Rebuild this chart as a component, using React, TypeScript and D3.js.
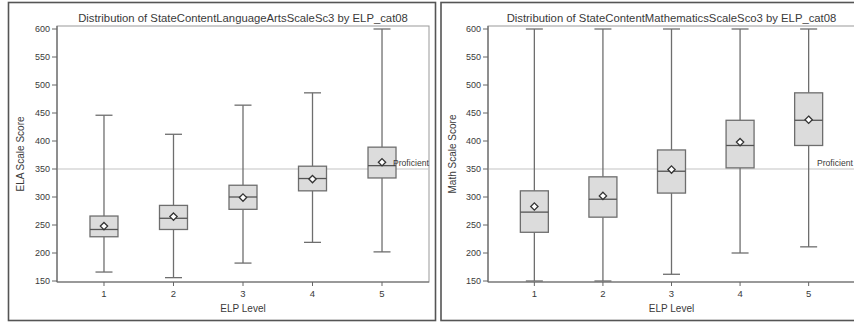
import React from "react";
import * as d3 from "d3";

const categories = ["1", "2", "3", "4", "5"];
const yTicks = [150, 200, 250, 300, 350, 400, 450, 500, 550, 600];
const proficientCut = 350;

const elaMin = [166, 156, 182, 219, 202];
const elaQ1 = [229, 242, 278, 311, 334];
const elaMedian = [242, 262, 300, 333, 356];
const elaQ3 = [266, 285, 321, 355, 389];
const elaMax = [446, 412, 464, 486, 600];
const elaMean = [248, 265, 299, 332, 362];

const mathMin = [150, 150, 162, 200, 211];
const mathQ1 = [237, 264, 307, 352, 392];
const mathMedian = [273, 296, 346, 392, 437];
const mathQ3 = [311, 336, 384, 437, 486];
const mathMax = [600, 600, 600, 600, 600];
const mathMean = [283, 302, 349, 398, 438];

type PanelProps = {
  title: string;
  yLabel: string;
  mins: number[];
  q1s: number[];
  medians: number[];
  q3s: number[];
  maxs: number[];
  means: number[];
  border: [number, number, number, number];
  plotX0: number;
  plotX1: number;
  yLabelX: number;
  profX: number;
};

const FONT = "'Liberation Sans', Arial, sans-serif";
const TEXT = "#3a3a3a";

function Panel(p: PanelProps) {
  const top = 26;
  const bottom = 282;
  const y = d3.scaleLinear().domain([150, 600]).range([281, 29]);
  const x = d3.scalePoint<string>().domain(categories).range([p.plotX0, p.plotX1]).padding(0.676);
  const boxW = 28;
  const capW = 17;
  const cx = (p.plotX0 + p.plotX1) / 2;
  const diamond = d3.symbol().type(d3.symbolDiamond2 as any).size(34)();
  return (
    <g>
      <rect x={p.border[0]} y={p.border[1]} width={p.border[2]} height={p.border[3]} fill="white" stroke="#555" strokeWidth={1.6} />
      <text x={cx} y={21.5} textAnchor="middle" fontFamily={FONT} fontSize={11.3} fill={TEXT}>{p.title}</text>
      <rect x={p.plotX0} y={top} width={p.plotX1 - p.plotX0} height={bottom - top} fill="white" stroke="#999" strokeWidth={1} />
      <line x1={p.plotX0} x2={p.plotX1} y1={y(proficientCut)} y2={y(proficientCut)} stroke="#c4c4c4" strokeWidth={1.2} />
      <line x1={p.plotX0} x2={p.plotX0} y1={top} y2={bottom} stroke="#666" strokeWidth={1.2} />
      <line x1={p.plotX0} x2={p.plotX1} y1={bottom} y2={bottom} stroke="#666" strokeWidth={1.2} />
      {yTicks.map((t) => (
        <g key={t}>
          <line x1={p.plotX0 - 5} x2={p.plotX0} y1={y(t)} y2={y(t)} stroke="#666" />
          <text x={p.plotX0 - 7} y={y(t) + 3} textAnchor="end" fontFamily={FONT} fontSize={9} fill={TEXT}>{t}</text>
        </g>
      ))}
      {categories.map((c) => (
        <g key={c}>
          <line x1={x(c)} x2={x(c)} y1={bottom} y2={bottom + 4} stroke="#666" />
          <text x={x(c)} y={bottom + 15} textAnchor="middle" fontFamily={FONT} fontSize={9.5} fill={TEXT}>{c}</text>
        </g>
      ))}
      <text x={cx} y={bottom + 30} textAnchor="middle" fontFamily={FONT} fontSize={10} fill={TEXT}>ELP Level</text>
      <text transform={`translate(${p.yLabelX},${(top + bottom) / 2}) rotate(-90)`} textAnchor="middle" fontFamily={FONT} fontSize={10} fill={TEXT}>{p.yLabel}</text>
      {categories.map((c, i) => {
        const xc = x(c) as number;
        return (
          <g key={"b" + c}>
            <line x1={xc} x2={xc} y1={y(p.maxs[i])} y2={y(p.q3s[i])} stroke="#6e6e6e" strokeWidth={1.3} />
            <line x1={xc} x2={xc} y1={y(p.q1s[i])} y2={y(p.mins[i])} stroke="#6e6e6e" strokeWidth={1.3} />
            <line x1={xc - capW / 2} x2={xc + capW / 2} y1={y(p.maxs[i])} y2={y(p.maxs[i])} stroke="#6e6e6e" strokeWidth={1.3} />
            <line x1={xc - capW / 2} x2={xc + capW / 2} y1={y(p.mins[i])} y2={y(p.mins[i])} stroke="#6e6e6e" strokeWidth={1.3} />
            <rect x={xc - boxW / 2} y={y(p.q3s[i])} width={boxW} height={y(p.q1s[i]) - y(p.q3s[i])} fill="#dcdcdc" stroke="#6e6e6e" strokeWidth={1.3} />
            <line x1={xc - boxW / 2} x2={xc + boxW / 2} y1={y(p.medians[i])} y2={y(p.medians[i])} stroke="#555" strokeWidth={1.3} />
            <path d={diamond as string} transform={`translate(${xc},${y(p.means[i])})`} fill="white" stroke="#333" strokeWidth={1.3} />
          </g>
        );
      })}
      <text x={p.profX} y={y(proficientCut) - 3} fontFamily={FONT} fontSize={8.6} fill={TEXT}>Proficient</text>
    </g>
  );
}

export default function App() {
  return (
    <svg width={854} height={322} style={{ position: "absolute", left: 0, top: 0, background: "white" }}>
      <Panel
        title="Distribution of StateContentLanguageArtsScaleSc3 by ELP_cat08"
        yLabel="ELA Scale Score"
        mins={elaMin}
        q1s={elaQ1}
        medians={elaMedian}
        q3s={elaQ3}
        maxs={elaMax}
        means={elaMean}
        border={[8.5, 2.5, 427, 318]}
        plotX0={57}
        plotX1={429}
        yLabelX={24}
        profX={393}
      />
      <Panel
        title="Distribution of StateContentMathematicsScaleSco3 by ELP_cat08"
        yLabel="Math Scale Score"
        mins={mathMin}
        q1s={mathQ1}
        medians={mathMedian}
        q3s={mathQ3}
        maxs={mathMax}
        means={mathMean}
        border={[441, 2.5, 430, 318]}
        plotX0={488}
        plotX1={855}
        yLabelX={456}
        profX={817}
      />
    </svg>
  );
}
